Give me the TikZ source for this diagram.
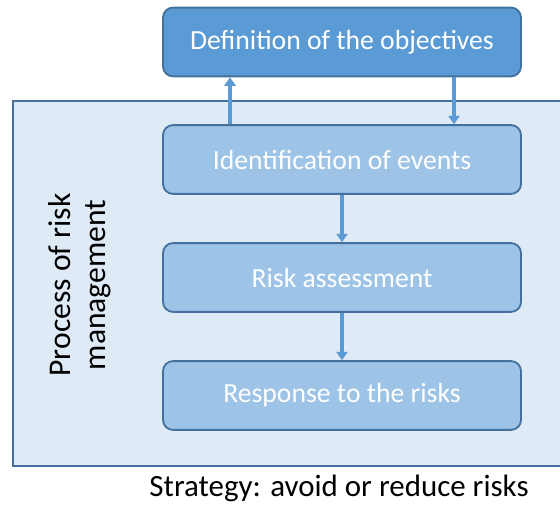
\documentclass[tikz,border=0pt]{standalone}
\usepackage{fontspec}
\setmainfont{Carlito}
\usetikzlibrary{arrows.meta}

\definecolor{boxdark}{HTML}{5B9BD5}
\definecolor{boxlight}{HTML}{9DC3E6}
\definecolor{boxline}{HTML}{41719C}
\definecolor{backfill}{HTML}{DEEBF7}

\begin{document}
\begin{tikzpicture}
\tikzstyle{every node}=[font=\fontsize{19.7}{24}\selectfont]
\tikzstyle{stage}=[draw=boxline, line width=1.3pt, rounded corners=0.25cm,
    minimum width=8.95cm, minimum height=1.72cm, text=white]
\tikzstyle{arr}=[boxdark, line width=2.4pt, -{Triangle[length=6pt,width=8pt]}]

\clip (0, 0) rectangle (14, 12.6);

\draw[draw=boxline, line width=1.3pt, fill=backfill] (0.325, 0.95) rectangle (14.5, 10.075); % process

\node[stage, fill=boxdark] (objectives) at (8.55, 11.55) {Definition of the objectives};
\node[stage, fill=boxlight] (events) at (8.55, 8.6125) {Identification of events};
\node[stage, fill=boxlight] (assessment) at (8.55, 5.6625) {Risk assessment};
\node[stage, fill=boxlight] (response) at (8.55, 2.7125) {Response to the risks};

\draw[arr] ([xshift=-2.8cm]events.north) -- ([xshift=-2.8cm]objectives.south);
\draw[arr] ([xshift=2.8cm]objectives.south) -- ([xshift=2.8cm]events.north);
\draw[arr] (events) -- (assessment);
\draw[arr] (assessment) -- (response);

\node[rotate=90, align=center, font=\fontsize{22.5}{25}\selectfont] (label) at (2.0, 5.475)
    {Process of risk\\management};
\node[font=\fontsize{22}{26}\selectfont] (strategy) at (8.475, 0.4)
    {Strategy: avoid or reduce risks};

\end{tikzpicture}
\end{document}
